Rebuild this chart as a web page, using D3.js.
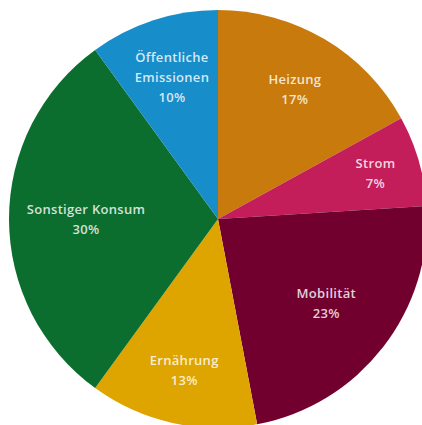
<!DOCTYPE html>
<html>
<head>
<meta charset="utf-8">
<script src="https://cdn.jsdelivr.net/npm/d3@7"></script>
<style>
  html, body { margin: 0; padding: 0; background: #fff; }
  svg { display: block; }
</style>
</head>
<body>
<svg id="chart" width="422" height="425"></svg>
<script>
const categories = ["Heizung", "Strom", "Mobilität", "Ernährung", "Sonstiger Konsum", "Öffentliche Emissionen"];
const values = [17, 7, 23, 13, 30, 10];
const labelLines = [["Heizung"], ["Strom"], ["Mobilität"], ["Ernährung"], ["Sonstiger Konsum"], ["Öffentliche", "Emissionen"]];
const colors = ["#c87a0c", "#c31e5a", "#72002f", "#dea500", "#0b6e2e", "#178dc9"];

// layout
const cx = 218, cy = 219, R = 209;
const labelRadius = [151, 164, 137, 155, 132, 149];

const data = categories.map((c, i) => ({ name: c, value: values[i], lines: labelLines[i], color: colors[i], lr: labelRadius[i] }));

const svg = d3.select("#chart");
const g = svg.append("g").attr("transform", `translate(${cx},${cy})`);

const pie = d3.pie().value(d => d.value).sort(null);
const arcs = pie(data);
const arc = d3.arc().innerRadius(0).outerRadius(R);

g.selectAll("path.slice").data(arcs).enter().append("path")
  .attr("class", "slice")
  .attr("d", arc)
  .attr("fill", d => d.data.color);

const lineH = 20;
const labels = g.selectAll("text.lbl").data(arcs).enter().append("text")
  .attr("class", "lbl")
  .attr("transform", d => {
    const a = d3.arc().innerRadius(d.data.lr).outerRadius(d.data.lr);
    const [x, y] = a.centroid(d);
    return `translate(${x},${y})`;
  })
  .attr("text-anchor", "middle")
  .attr("font-family", "'Open Sans', sans-serif")
  .attr("font-weight", 600)
  .attr("font-size", 13)
  .attr("letter-spacing", 0.3)
  .attr("fill", "#ffffff")
  .attr("fill-opacity", 0.82);

labels.each(function(d) {
  const lines = d.data.lines.concat([d.data.value + "%"]);
  const n = lines.length;
  const t = d3.select(this);
  lines.forEach((l, i) => {
    t.append("tspan")
      .attr("x", 0)
      .attr("y", (i - (n - 1) / 2) * lineH)
      .attr("dy", "0.35em")
      .text(l);
  });
});
</script>
</body>
</html>
